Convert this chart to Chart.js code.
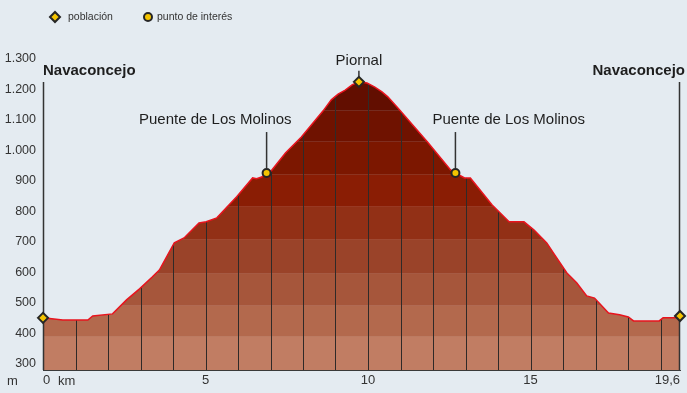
<!DOCTYPE html>
<html lang="es">
<head>
<meta charset="utf-8">
<title>Perfil Navaconcejo - Piornal</title>
<script src="https://cdn.jsdelivr.net/npm/chart.js@4/dist/chart.umd.min.js"></script>
<style>
  html, body { margin: 0; padding: 0; background: #e4ebf1; }
  #perfil { display: block; }
</style>
</head>
<body>
<canvas id="perfil" width="687" height="393"></canvas>
<script>
// Perfil de la ruta: distancia (km) y altitud (m)
const distancias = [0, 0.61, 1.38, 1.53, 2.14, 2.57, 2.97, 3.36, 3.58, 4.04, 4.34, 4.80, 5.02, 5.35, 5.72, 5.96,
    6.45, 6.57, 6.73, 6.88, 7.00, 7.46, 7.95, 8.62, 8.87, 9.08, 9.30, 9.51, 9.72, 9.97, 10.21, 10.43, 10.61,
    10.92, 11.83, 12.54, 12.69, 12.97, 13.15, 13.82, 14.34, 14.80, 15.11, 15.50, 15.75, 16.12, 16.42, 16.73,
    16.97, 17.40, 17.74, 18.01, 18.17, 18.96, 19.08, 19.48, 19.60];
const altitudes = [451, 444, 444, 457, 464, 510, 546, 585, 608, 697, 713, 762, 766, 779, 821, 848,
    910, 907, 913, 926, 930, 992, 1044, 1130, 1166, 1185, 1198, 1215, 1225, 1221, 1208, 1192, 1176,
    1139, 1028, 936, 926, 910, 910, 821, 766, 766, 739, 697, 657, 598, 566, 523,
    516, 467, 461, 454, 441, 441, 451, 451, 457];

// Lugares marcados en el perfil
const lugares = ['Navaconcejo', 'Puente de Los Molinos', 'Piornal', 'Puente de Los Molinos', 'Navaconcejo'];
const lugarKm = [0, 6.88, 9.72, 12.69, 19.6];
const lugarAltitud = [451, 926, 1225, 926, 457];
const lugarTipo = ['población', 'punto de interés', 'población', 'punto de interés', 'población'];
const tiposLeyenda = ['población', 'punto de interés'];

// Ejes
const ticksAltitud = [300, 400, 500, 600, 700, 800, 900, 1000, 1100, 1200, 1300];
const ticksKm = [0, 5, 10, 15, 19.6];

// Franjas de color del relleno (límite inferior de cada franja, en m)
const franjas = [280, 389, 490, 595, 707, 815, 920, 1028, 1130, 1235];
const coloresFranja = ['#c17d63', '#b3694d', '#a6563b', '#9a4329', '#923016',
    '#8a1d04', '#7c1700', '#6f1200', '#620e00', '#5a0b00'];

const FUENTE = "'Liberation Sans', Arial, sans-serif";
const AMARILLO = '#f4c400';
const NEGRO = '#262626';

// Aclara un color hex mezclándolo con blanco
function aclarar(hex, f) {
    const n = parseInt(hex.slice(1), 16);
    const c = [n >> 16, (n >> 8) & 255, n & 255].map(v => Math.round(v + (255 - v) * f));
    return 'rgb(' + c.join(',') + ')';
}

// Degradado por franjas según la escala de altitud
function degradadoFranjas(context) {
    const chart = context.chart;
    const area = chart.chartArea;
    if (!area) return coloresFranja[0];
    const y = chart.scales.y;
    const alto = area.bottom - area.top;
    const pos = v => Math.min(1, Math.max(0, (area.bottom - y.getPixelForValue(v)) / alto));
    const g = chart.ctx.createLinearGradient(0, area.bottom, 0, area.top);
    const px = 1 / alto;
    franjas.forEach((v, i) => {
        const desde = pos(v);
        const hasta = i < franjas.length - 1 ? pos(franjas[i + 1]) : 1;
        if (i > 0) {
            // fina linea clara en el borde de la franja
            g.addColorStop(desde, aclarar(coloresFranja[i], 0.12));
            g.addColorStop(Math.min(1, desde + px), aclarar(coloresFranja[i], 0.12));
            g.addColorStop(Math.min(1, desde + px), coloresFranja[i]);
        } else {
            g.addColorStop(desde, coloresFranja[i]);
        }
        g.addColorStop(hasta, coloresFranja[i]);
    });
    return g;
}

// Altura (en px) del perfil en una x dada
function alturaEnPixel(puntos, px) {
    for (let i = 1; i < puntos.length; i++) {
        const a = puntos[i - 1], b = puntos[i];
        if (px >= a.x && px <= b.x) {
            const t = b.x === a.x ? 0 : (px - a.x) / (b.x - a.x);
            return a.y + (b.y - a.y) * t;
        }
    }
    return puntos[puntos.length - 1].y;
}

// Lineas verticales de cada km y lineas guia de las etiquetas
const lineasKm = {
    id: 'lineasKm',
    beforeDatasetDraw(chart, args) {
        if (args.index !== 0) return;
        const ctx = chart.ctx;
        const area = chart.chartArea;
        const x = chart.scales.x, y = chart.scales.y;
        const puntos = args.meta.data;
        ctx.save();
        ctx.strokeStyle = '#2f2a28';
        ctx.lineWidth = 1;
        for (let km = 1; km < ticksKm[ticksKm.length - 1]; km++) {
            const px = Math.round(x.getPixelForValue(km)) + 0.5;
            ctx.beginPath();
            ctx.moveTo(px, area.bottom);
            ctx.lineTo(px, alturaEnPixel(puntos, px));
            ctx.stroke();
        }
        // guias de las etiquetas
        ctx.strokeStyle = '#333';
        ctx.lineWidth = 1.5;
        lugares.forEach((nombre, i) => {
            const px = x.getPixelForValue(lugarKm[i]);
            const py = y.getPixelForValue(lugarAltitud[i]);
            ctx.beginPath();
            if (i === 0 || i === lugares.length - 1) {
                const gx = i === 0 ? px + 0.5 : px - 0.5;
                ctx.moveTo(gx, area.bottom);
                ctx.lineTo(gx, area.top + 23);
            } else if (lugarTipo[i] === 'población') {
                ctx.moveTo(px, py - 5);
                ctx.lineTo(px, py - 11);
            } else {
                ctx.moveTo(px, py - 5);
                ctx.lineTo(px, py - 41);
            }
            ctx.stroke();
        });
        ctx.restore();
    }
};

// Marcadores dibujados a mano para la leyenda
function dibujarMarcador(ctx, tipo, cx, cy) {
    ctx.save();
    ctx.fillStyle = AMARILLO;
    ctx.strokeStyle = NEGRO;
    ctx.lineWidth = 2;
    ctx.beginPath();
    if (tipo === 'población') {
        ctx.moveTo(cx - 5, cy);
        ctx.lineTo(cx, cy - 5);
        ctx.lineTo(cx + 5, cy);
        ctx.lineTo(cx, cy + 5);
        ctx.closePath();
    } else {
        ctx.arc(cx, cy, 4, 0, Math.PI * 2);
    }
    ctx.fill();
    ctx.stroke();
    ctx.restore();
}

// Leyenda, nombres de lugares y unidades
const etiquetas = {
    id: 'etiquetas',
    afterDraw(chart) {
        const ctx = chart.ctx;
        const area = chart.chartArea;
        const x = chart.scales.x, y = chart.scales.y;
        ctx.save();

        // leyenda
        ctx.font = '10.5px ' + FUENTE;
        ctx.fillStyle = '#333';
        ctx.textBaseline = 'middle';
        ctx.textAlign = 'left';
        const leyendaX = [55, 148];
        tiposLeyenda.forEach((tipo, i) => {
            dibujarMarcador(ctx, tipo, leyendaX[i], 17);
            ctx.fillText(tipo, leyendaX[i] + (i === 0 ? 13 : 9), 17);
        });

        // nombres de los lugares
        ctx.fillStyle = '#1e1e1e';
        lugares.forEach((nombre, i) => {
            const px = x.getPixelForValue(lugarKm[i]);
            const py = y.getPixelForValue(lugarAltitud[i]);
            if (i === 0 || i === lugares.length - 1) {
                ctx.font = 'bold 15px ' + FUENTE;
                ctx.textAlign = i === 0 ? 'left' : 'right';
                ctx.fillText(nombre, i === 0 ? area.left : chart.width - 2, area.top + 12);
            } else if (lugarTipo[i] === 'población') {
                ctx.font = '15px ' + FUENTE;
                ctx.textAlign = 'center';
                ctx.fillText(nombre, px, py - 21);
            } else {
                ctx.font = '15px ' + FUENTE;
                const izquierda = px < (area.left + area.right) / 2;
                ctx.textAlign = izquierda ? 'right' : 'left';
                ctx.fillText(nombre, izquierda ? px + 25 : px - 23, py - 53);
            }
        });

        // unidades
        ctx.font = '13px ' + FUENTE;
        ctx.fillStyle = '#333';
        ctx.textAlign = 'left';
        ctx.fillText('m', area.left - 36, area.bottom + 11);
        ctx.fillText('km', area.left + 15, area.bottom + 11);
        ctx.restore();
    }
};

const perfil = distancias.map((km, i) => ({ x: km, y: altitudes[i] }));
const poblaciones = lugares.map((n, i) => ({ x: lugarKm[i], y: lugarAltitud[i] }))
    .filter((p, i) => lugarTipo[i] === 'población');
const puntosInteres = lugares.map((n, i) => ({ x: lugarKm[i], y: lugarAltitud[i] }))
    .filter((p, i) => lugarTipo[i] === 'punto de interés');

new Chart(document.getElementById('perfil').getContext('2d'), {
    type: 'scatter',
    data: {
        datasets: [{
            label: 'perfil',
            data: perfil,
            showLine: true,
            fill: 'start',
            backgroundColor: degradadoFranjas,
            borderColor: '#e8141e',
            borderWidth: 1.5,
            pointRadius: 0,
            tension: 0,
            order: 2
        }, {
            label: 'población',
            data: poblaciones,
            pointStyle: 'rectRot',
            pointRadius: 5,
            pointBorderWidth: 2,
            pointBorderColor: NEGRO,
            pointBackgroundColor: AMARILLO,
            clip: false,
            order: 0
        }, {
            label: 'punto de interés',
            data: puntosInteres,
            pointStyle: 'circle',
            pointRadius: 4,
            pointBorderWidth: 2,
            pointBorderColor: NEGRO,
            pointBackgroundColor: AMARILLO,
            clip: false,
            order: 1
        }]
    },
    options: {
        responsive: false,
        animation: false,
        events: [],
        layout: { padding: { top: 59, right: 1, left: 0, bottom: 0 } },
        plugins: {
            legend: { display: false },
            tooltip: { enabled: false }
        },
        scales: {
            x: {
                type: 'linear',
                min: 0,
                max: 19.6,
                z: 1,
                afterBuildTicks: s => { s.ticks = ticksKm.map(v => ({ value: v })); },
                afterFit: s => { s.height = 23; s.paddingLeft = 0; s.paddingRight = 0; },
                grid: { display: false, drawTicks: false },
                border: { display: true, color: '#3a3a3a', width: 1 },
                ticks: {
                    align: 'inner',
                    padding: 3,
                    color: '#333',
                    font: { family: FUENTE, size: 13 },
                    maxRotation: 0,
                    callback: v => String(v).replace('.', ',')
                }
            },
            y: {
                type: 'linear',
                min: 280,
                max: 1300,
                afterBuildTicks: s => { s.ticks = ticksAltitud.map(v => ({ value: v })); },
                afterFit: s => { s.width = 43; },
                grid: { display: false, drawTicks: false },
                border: { display: false },
                ticks: {
                    padding: 7,
                    color: '#333',
                    font: { family: FUENTE, size: 12.5 },
                    callback: v => v.toLocaleString('es-ES', { useGrouping: true }).replace(/,/g, '.')
                }
            }
        }
    },
    plugins: [lineasKm, etiquetas]
});
</script>
</body>
</html>
